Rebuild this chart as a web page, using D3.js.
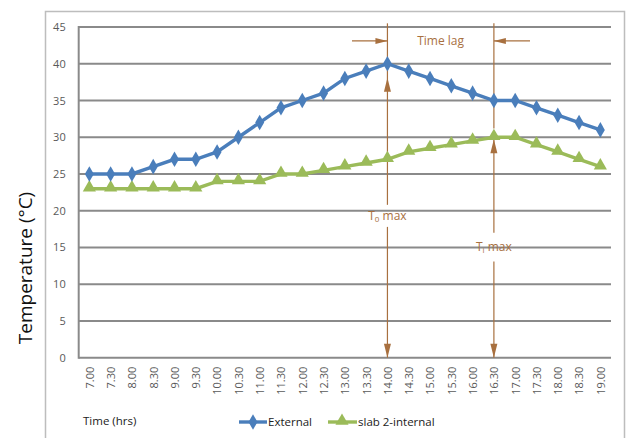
<!DOCTYPE html>
<html><head><meta charset="utf-8">
<script src="https://cdn.jsdelivr.net/npm/d3@7/dist/d3.min.js"></script>
<style>body{margin:0;background:#fff}svg{display:block}</style>
</head><body>
<script>
const times = ["7.00","7.30","8.00","8.30","9.00","9.30","10.00","10.30","11.00","11.30","12.00","12.30","13.00","13.30","14.00","14.30","15.00","15.30","16.00","16.30","17.00","17.30","18.00","18.30","19.00"];
const external = [25,25,25,26,27,27,28,30,32,34,35,36,38,39,40,39,38,37,36,35,35,34,33,32,31];
const slabInternal = [23,23,23,23,23,23,24,24,24,25,25,25.5,26,26.5,27,28,28.5,29,29.5,30,30,29,28,27,26];
const yTicks = [0,5,10,15,20,25,30,35,40,45];
const seriesNames = ["External","slab 2-internal"];

const W = 627, H = 438;
const svg = d3.select("body").append("svg").attr("width", W).attr("height", H);
const brown = "#a8703f", blue = "#4a7ebb", green = "#9bbb59", grid = "#8a8a8a", tickCol = "#595959";
const font = "'Open Sans', 'Liberation Sans', sans-serif";

// outer frame (bottom is cut off)
svg.append("path").attr("d", "M45.5,440 V11.5 H624.5 V440").attr("fill","none").attr("stroke","#bdbdbd").attr("stroke-width",1.5);

const x = d3.scalePoint().domain(times).range([78.7, 611]).padding(0.5);
const y = d3.scaleLinear().domain([0,45]).range([357.7, 27]);

// gridlines
svg.append("g").selectAll("line").data(yTicks).join("line")
  .attr("x1", 78.7).attr("x2", 611).attr("y1", d=>y(d)).attr("y2", d=>y(d))
  .attr("stroke", grid).attr("stroke-width", 2);
svg.append("line").attr("x1",78.7).attr("x2",78.7).attr("y1",y(45)-1).attr("y2",y(0)+1).attr("stroke",grid).attr("stroke-width",2);

// y axis labels
const yAxis = d3.axisLeft(y).tickValues(yTicks).tickSize(0).tickPadding(13);
const gy = svg.append("g").attr("transform","translate(78.7,0)").call(yAxis);
gy.select(".domain").remove();
gy.selectAll("text").attr("fill", tickCol).style("font-family", font).style("font-size","11px");

// x axis labels
const xAxis = d3.axisBottom(x).tickSize(0).tickPadding(0);
const gx = svg.append("g").attr("transform","translate(0,357.7)").call(xAxis);
gx.select(".domain").remove();
gx.selectAll("text").attr("fill", tickCol).style("font-family", font).style("font-size","11px")
  .attr("text-anchor","end").attr("transform","rotate(-90)").attr("x",-9).attr("y",0).attr("dy","0.35em");

// y title
svg.append("text").attr("transform","translate(32,268) rotate(-90)").attr("text-anchor","middle")
  .style("font-family", font).style("font-size","19px").attr("fill","#111").text("Temperature (°C)");

// annotations
const ann = svg.append("g").attr("stroke", brown).attr("fill", brown);
function vline(xv, y1, y2){ ann.append("line").attr("x1",xv).attr("x2",xv).attr("y1",y1).attr("y2",y2).attr("stroke-width",1.2); }
function arrowHead(xv, yv, dir){
  let p;
  if(dir==="up") p=[[xv,yv],[xv-3.5,yv+14],[xv+3.5,yv+14]];
  if(dir==="down") p=[[xv,yv],[xv-3.5,yv-14],[xv+3.5,yv-14]];
  if(dir==="right") p=[[xv,yv],[xv-12,yv-3],[xv-12,yv+3]];
  if(dir==="left") p=[[xv,yv],[xv+12,yv-3],[xv+12,yv+3]];
  ann.append("path").attr("d","M"+p.join("L")+"Z").attr("stroke","none");
}
const x14 = x("14.00"), x163 = x("16.30");
vline(x14, y(45.5), y(20.8));
vline(x14, y(17.8), y(0));
arrowHead(x14, y(40)+14, "up");
arrowHead(x14, y(0), "down");
vline(x163, y(45.5), y(31.2));
vline(x163, y(30), y(17));
vline(x163, y(13.1), y(0));
arrowHead(x163, y(30)+2, "up");
arrowHead(x163, y(0), "down");
ann.append("line").attr("x1",352).attr("x2",x14).attr("y1",y(43.1)).attr("y2",y(43.1)).attr("stroke-width",1.2);
arrowHead(x14, y(43.1), "right");
ann.append("line").attr("x1",530).attr("x2",x163).attr("y1",y(43.1)).attr("y2",y(43.1)).attr("stroke-width",1.2);
arrowHead(x163, y(43.1), "left");
const tstyle = s => s.attr("fill", brown).attr("stroke","none").style("font-family", font).style("font-size","12px").attr("text-anchor","middle");
svg.append("text").attr("x",(x14+x163)/2).attr("y",y(43.1)+4).call(tstyle).text("Time lag");
const t0 = svg.append("text").attr("x",x14).attr("y",y(19.3)+4).call(tstyle);
t0.append("tspan").text("T");
t0.append("tspan").attr("font-size","8px").attr("dy","2").text("0");
t0.append("tspan").attr("dy","-2").text(" max");
const ti = svg.append("text").attr("x",x163).attr("y",y(15)+4).call(tstyle);
ti.append("tspan").text("T");
ti.append("tspan").attr("font-size","8px").attr("dy","2").text("i");
ti.append("tspan").attr("dy","-2").text(" max");

// series
const line = d3.line().x((d,i)=>x(times[i])).y(d=>y(d));
const diamond = d3.symbol().type(d3.symbolDiamond).size(70);
const tri = d3.symbol().type(d3.symbolTriangle).size(75);
svg.append("path").datum(slabInternal).attr("d", line).attr("fill","none").attr("stroke",green).attr("stroke-width",3.4);
svg.append("g").selectAll("path").data(slabInternal).join("path")
  .attr("d", tri).attr("transform",(d,i)=>`translate(${x(times[i])},${y(d)-1})`).attr("fill",green);
svg.append("path").datum(external).attr("d", line).attr("fill","none").attr("stroke",blue).attr("stroke-width",3.4);
svg.append("g").selectAll("path").data(external).join("path")
  .attr("d", diamond).attr("transform",(d,i)=>`translate(${x(times[i])},${y(d)})`).attr("fill",blue);

// bottom: axis title and legend
const lstyle = s => s.attr("fill","#222").style("font-family", font).style("font-size","11.5px");
svg.append("text").attr("x",83).attr("y",425).call(lstyle).text("Time (hrs)");
const leg = svg.append("g");
leg.append("line").attr("x1",239).attr("x2",267).attr("y1",422).attr("y2",422).attr("stroke",blue).attr("stroke-width",3.4);
leg.append("path").attr("d",diamond).attr("transform","translate(253,422)").attr("fill",blue);
leg.append("text").attr("x",268).attr("y",426).call(lstyle).text(seriesNames[0]);
leg.append("line").attr("x1",328).attr("x2",357).attr("y1",422).attr("y2",422).attr("stroke",green).attr("stroke-width",3.4);
leg.append("path").attr("d",tri).attr("transform","translate(342,421)").attr("fill",green);
leg.append("text").attr("x",358).attr("y",426).call(lstyle).text(seriesNames[1]);
</script>
</body></html>
